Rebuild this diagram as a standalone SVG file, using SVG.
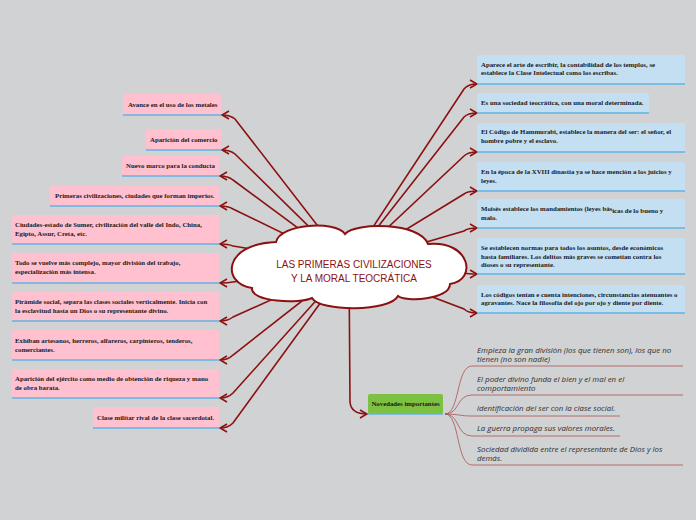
<svg xmlns="http://www.w3.org/2000/svg" width="696" height="520" viewBox="0 0 696 520">
<defs>
<style>
.bg{fill:#d1d2d4}
.pink{fill:#ffc0d0}
.blue{fill:#c4def2}
.green{fill:#7dc143}
.ul{stroke:#62b3e2;stroke-width:1.6;fill:none}
.bt{font-family:"Liberation Serif",serif;font-weight:bold;font-size:6.8px;fill:#1a1a1a}
.it{font-family:"Open Sans","Liberation Sans",sans-serif;font-style:italic;font-size:7.9px;fill:#2e2e2e}
.con{fill:none;stroke:#8b1111;stroke-width:1.6;marker-end:url(#ah)}
.sub{fill:none;stroke:#b05a5a;stroke-width:1;opacity:0.85}
.title{font-family:"Liberation Sans",Arial,sans-serif;font-size:10px;fill:#8f1010;text-anchor:middle}
</style>
<marker id="ah" viewBox="-9 -5 10 10" refX="0" refY="0" markerWidth="10" markerHeight="10" orient="auto" markerUnits="userSpaceOnUse">
<path d="M -7 -4 L 0 0 L -7 4" fill="none" stroke="#8b1111" stroke-width="1.6"/>
</marker>
</defs>
<rect class="bg" x="0" y="0" width="696" height="520"/>

<g id="connectors">
<path class="con" d="M 348 265 L 235 119 Q 230 115 222 115"/>
<path class="con" d="M 348 265 L 235 154 Q 230 150 222 150"/>
<path class="con" d="M 348 265 L 233 180 Q 228 176 220 176"/>
<path class="con" d="M 348 265 L 233 209 Q 228 206 220 206"/>
<path class="con" d="M 348 265 L 233 246 Q 228 244 220 244"/>
<path class="con" d="M 348 265 L 233 282 Q 228 283 220 283"/>
<path class="con" d="M 348 265 L 233 317 Q 228 321 220 321"/>
<path class="con" d="M 348 265 L 233 355 Q 228 360 220 360"/>
<path class="con" d="M 348 265 L 233 393 Q 228 398 220 398"/>
<path class="con" d="M 348 265 L 233 423 Q 228 428 220 428"/>
<path class="con" d="M 348 265 L 464 89 Q 468 84 477 84"/>
<path class="con" d="M 348 265 L 464 117 Q 468 113 477 113"/>
<path class="con" d="M 348 265 L 464 156 Q 468 152 477 152"/>
<path class="con" d="M 348 265 L 464 194 Q 468 191 477 191"/>
<path class="con" d="M 348 265 L 464 231 Q 468 228 477 228"/>
<path class="con" d="M 348 265 L 464 273 Q 468 274 477 274"/>
<path class="con" d="M 348 265 L 464 309 Q 468 313 477 313"/>
<path class="con" d="M 349 265 L 350 402 Q 351 414 367 414"/>
<path class="sub" d="M 445 414 C 460 414, 456 366, 472 366 L 683 366"/>
<path class="sub" d="M 445 414 C 460 414, 456 395, 472 395 L 683 395"/>
<path class="sub" d="M 445 414 C 458 414, 460 416, 472 416 L 620 416"/>
<path class="sub" d="M 445 414 C 460 414, 456 436, 472 436 L 620 436"/>
<path class="sub" d="M 445 414 C 460 414, 456 465, 472 465 L 683 465"/>
</g>

<g id="center">
<path d="M 276 242 C 280 224, 335 220, 345 234 C 355 222, 420 222, 428 244 C 470 240, 478 280, 450 284 C 450 300, 405 302, 398 296 C 390 312, 320 312, 312 298 C 300 304, 250 302, 252 288 C 222 284, 222 244, 276 242 Z" fill="#fff" stroke="#8b1111" stroke-width="2"/>
<text class="title" x="354" y="268">LAS PRIMERAS CIVILIZACIONES</text>
<text class="title" x="354" y="282">Y LA MORAL TEOCRÁTICA</text>
</g>

<g id="l1"><rect class="pink" x="123" y="94" width="98" height="21" rx="2"/><line class="ul" x1="123" y1="115" x2="221" y2="115"/><text class="bt" x="128" y="106.5">Avance en el uso de los metales</text></g>
<g id="l2"><rect class="pink" x="146" y="129" width="75" height="21" rx="2"/><line class="ul" x1="146" y1="150" x2="221" y2="150"/><text class="bt" x="150" y="142">Aparición del comercio</text></g>
<g id="l3"><rect class="pink" x="122" y="156" width="97" height="20" rx="2"/><line class="ul" x1="122" y1="176" x2="219" y2="176"/><text class="bt" x="126" y="168">Nuevo marco para la conducta</text></g>
<g id="l4"><rect class="pink" x="50" y="186" width="169" height="20" rx="2"/><line class="ul" x1="50" y1="206" x2="219" y2="206"/><text class="bt" x="55" y="198">Primeras civilizaciones, ciudades que forman imperios.</text></g>
<g id="l5"><rect class="pink" x="12" y="215" width="207" height="29" rx="2"/><line class="ul" x1="12" y1="244" x2="219" y2="244"/><text class="bt" x="15" y="227">Ciudades-estado de Sumer, civilización del valle del Indo, China,</text><text class="bt" x="15" y="236">Egipto, Assur, Creta, etc.</text></g>
<g id="l6"><rect class="pink" x="12" y="253" width="207" height="30" rx="2"/><line class="ul" x1="12" y1="283" x2="219" y2="283"/><text class="bt" x="15" y="265">Todo se vuelve más complejo, mayor división del trabajo,</text><text class="bt" x="15" y="274">especialización más intensa.</text></g>
<g id="l7"><rect class="pink" x="12" y="292" width="207" height="29" rx="2"/><line class="ul" x1="12" y1="321" x2="219" y2="321"/><text class="bt" x="15" y="304">Pirámide social, separa las clases sociales verticalmente. Inicia con</text><text class="bt" x="15" y="313">la esclavitud hasta un Dios o su representante divino.</text></g>
<g id="l8"><rect class="pink" x="12" y="330" width="207" height="30" rx="2"/><line class="ul" x1="12" y1="360" x2="219" y2="360"/><text class="bt" x="15" y="343">Exhiban artesanos, herreros, alfareros, carpinteros, tenderos,</text><text class="bt" x="15" y="351.5">comerciantes.</text></g>
<g id="l9"><rect class="pink" x="12" y="369" width="207" height="29" rx="2"/><line class="ul" x1="12" y1="398" x2="219" y2="398"/><text class="bt" x="15" y="381">Aparición del ejército como medio de obtención de riqueza y mano</text><text class="bt" x="15" y="390">de obra barata.</text></g>
<g id="l10"><rect class="pink" x="93" y="407" width="126" height="21" rx="2"/><line class="ul" x1="93" y1="428" x2="219" y2="428"/><text class="bt" x="97" y="420">Clase militar rival de la clase sacerdotal.</text></g>

<g id="r1"><rect class="blue" x="477" y="55" width="208" height="29" rx="2"/><line class="ul" x1="477" y1="84" x2="685" y2="84"/><text class="bt" x="481" y="67">Aparece el arte de escribir, la contabilidad de los templos, se</text><text class="bt" x="481" y="75">establece la Clase Intelectual como los escribas.</text></g>
<g id="r2"><rect class="blue" x="477" y="93" width="172" height="20" rx="2"/><line class="ul" x1="477" y1="113" x2="649" y2="113"/><text class="bt" x="481" y="105">Es una sociedad teocrática, con una moral determinada.</text></g>
<g id="r3"><rect class="blue" x="477" y="123" width="208" height="29" rx="2"/><line class="ul" x1="477" y1="152" x2="685" y2="152"/><text class="bt" x="481" y="134">El Código de Hammurabi, establece la manera del ser: el señor, el</text><text class="bt" x="481" y="143">hombre pobre y el esclavo.</text></g>
<g id="r4"><rect class="blue" x="477" y="162" width="208" height="29" rx="2"/><line class="ul" x1="477" y1="191" x2="685" y2="191"/><text class="bt" x="481" y="174">En la época de la XVIII dinastía ya se hace mención a los juicios y</text><text class="bt" x="481" y="183">leyes.</text></g>
<g id="r5"><rect class="blue" x="477" y="199" width="208" height="29" rx="2"/><line class="ul" x1="477" y1="228" x2="685" y2="228"/><text class="bt" x="481" y="211">Moisés establece los mandamientos (leyes bás<tspan dy="1.5">icas de lo bueno y</tspan></text><text class="bt" x="481" y="220">malo.</text></g>
<g id="r6"><rect class="blue" x="477" y="238" width="208" height="36" rx="2"/><line class="ul" x1="477" y1="274" x2="685" y2="274"/><text class="bt" x="481" y="250">Se establecen normas para todos los asuntos, desde económicos</text><text class="bt" x="481" y="259">hasta familiares. Los delitos más graves se cometían contra los</text><text class="bt" x="481" y="267">dioses o su representante.</text></g>
<g id="r7"><rect class="blue" x="477" y="285" width="208" height="28" rx="2"/><line class="ul" x1="477" y1="313" x2="685" y2="313"/><text class="bt" x="481" y="297">Los códigos tenían e cuenta intenciones, circunstancias atenuantes o</text><text class="bt" x="481" y="305">agravantes. Nace la filosofía del ojo por ojo y diente por diente.</text></g>

<g id="novedades"><rect class="green" x="368" y="394" width="75" height="20" rx="2"/><line class="ul" x1="368" y1="414" x2="443" y2="414"/><text class="bt" x="405.5" y="406" text-anchor="middle">Novedades importantes</text></g>

<g id="n1"><text class="it" x="477" y="352.5">Empieza la gran divisiòn (los que tienen son), los que no</text><text class="it" x="477" y="361.5">tienen (no son nadie)</text></g>
<g id="n2"><text class="it" x="477" y="381.5">El poder divino funda el bien y el mal en el</text><text class="it" x="477" y="390.5">comportamiento</text></g>
<g id="n3"><text class="it" x="477" y="410.5">identificación del ser con la clase social.</text></g>
<g id="n4"><text class="it" x="477" y="430.5">La guerra propaga sus valores morales.</text></g>
<g id="n5"><text class="it" x="477" y="451.5">Sociedad dividida entre el representante de Dios y los</text><text class="it" x="477" y="460.5">demás.</text></g>
</svg>
